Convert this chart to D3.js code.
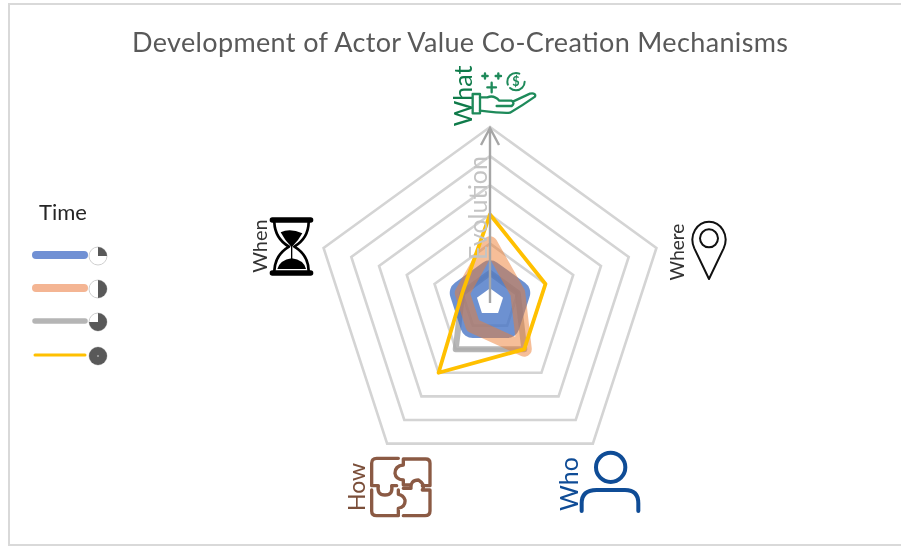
<!DOCTYPE html>
<html>
<head>
<meta charset="utf-8">
<script src="https://d3js.org/d3.v7.min.js"></script>
<style>
html, body { margin: 0; padding: 0; background: #fff; overflow: hidden; }
svg { display: block; filter: blur(0.6px); }
text { font-family: Lato, "Open Sans", sans-serif; }
</style>
</head>
<body>
<script>
var title = "Development of Actor Value Co-Creation Mechanisms";
var axes = ["What", "Where", "Who", "How", "When"];
var levels = [1, 2, 3, 4, 5, 6];

// value per axis, same order as axes
var time1 = [1, 1, 1, 1, 1];
var time2 = [2, 1, 2, 1, 1];
var time3 = [1, 1, 2, 2, 1];
var time4 = [3, 2, 2, 3, 1];

// how much of each legend clock is dark
var clockFill = [1, 2, 3, 4];

var width = 901, height = 546,
    cx = 490, cy = 302;

var svg = d3.select("body").append("svg").attr("width", width).attr("height", height);

// picture frame
svg.append("path")
    .attr("d", "M903,4H9V545H903")
    .attr("fill", "none")
    .attr("stroke", "#d9d9d9")
    .attr("stroke-width", 2);

svg.append("text")
    .attr("x", 460).attr("y", 52)
    .attr("text-anchor", "middle")
    .attr("fill", "#595959")
    .attr("font-size", 27)
    .attr("textLength", 656)
    .text(title);

var r = d3.scaleLinear().domain([0, 6]).range([0, 175]);
var angle = d3.scalePoint().domain(axes).range([0, 2 * Math.PI * 4 / 5]);

var radar = d3.lineRadial()
    .angle(function (d, i) { return angle(axes[i]); })
    .radius(function (d) { return r(d); })
    .curve(d3.curveLinearClosed);

var g = svg.append("g").attr("transform", "translate(" + cx + "," + cy + ")");

g.selectAll(".ring")
    .data(levels)
    .enter().append("path")
    .attr("class", "ring")
    .attr("fill", "none")
    .attr("stroke", "#d4d4d4")
    .attr("stroke-width", 2.6)
    .attr("d", function (d) { return radar(axes.map(function () { return d; })); });

// gray goes under the blue in the original
var series = [
    {values: time3, color: "#a5a5a5", w: 6, o: 0.8},
    {values: time1, color: "#4472c4", w: 25, o: 0.78},
    {values: time2, color: "#ed7d31", w: 15, o: 0.5},
    {values: time4, color: "#ffc000", w: 3.8, o: 1}
];

g.selectAll(".serie")
    .data(series)
    .enter().append("path")
    .attr("class", "serie")
    .attr("fill", "none")
    .attr("stroke-linejoin", "round")
    .attr("stroke", function (d) { return d.color; })
    .attr("stroke-width", function (d) { return d.w; })
    .attr("stroke-opacity", function (d) { return d.o; })
    .attr("d", function (d) { return radar(d.values); });

// evolution arrow
svg.append("text")
    .attr("transform", "translate(487,208) rotate(-90)")
    .attr("text-anchor", "middle")
    .attr("fill", "#c4c4c4")
    .attr("font-size", 25)
    .text("Evolution");

svg.append("path")
    .attr("d", "M490,303V128M481,145L490,128L499,145")
    .attr("fill", "none")
    .attr("stroke", "#a6a6a6")
    .attr("stroke-width", 2.4);

// axis labels, rotated like the source image
var labels = [
    {t: "What", x: 472, y: 96, size: 25, color: "#0f7b4a"},
    {t: "Where", x: 684, y: 252, size: 19, color: "#333"},
    {t: "Who", x: 578, y: 484, size: 25, color: "#0f4c96"},
    {t: "How", x: 365, y: 487, size: 23, color: "#7b4f3a"},
    {t: "When", x: 267, y: 246, size: 20, color: "#333"}
];

svg.selectAll(".axis-label")
    .data(labels)
    .enter().append("text")
    .attr("class", "axis-label")
    .attr("transform", function (d) { return "translate(" + d.x + "," + d.y + ") rotate(-90)"; })
    .attr("text-anchor", "middle")
    .attr("font-size", function (d) { return d.size; })
    .attr("fill", function (d) { return d.color; })
    .text(function (d) { return d.t; });

// icons, traced at 3x so they scale down by a third
function icon(x, y, color, sw) {
    return svg.append("g")
        .attr("transform", "translate(" + x + "," + y + ") scale(0.3333)")
        .attr("fill", "none")
        .attr("stroke", color)
        .attr("stroke-width", sw)
        .attr("stroke-linecap", "round")
        .attr("stroke-linejoin", "round");
}

var what = icon(430, 60, "#1e8a5a", 7);
what.append("rect").attr("x", 128).attr("y", 102).attr("width", 22).attr("height", 58);
what.append("path").attr("d", "M150,112H172Q192,104 208,122H245Q256,129 245,138H200M250,124L300,101Q319,98 315,110Q280,135 240,158Q225,161 150,152");
what.append("path").attr("d", "M157,48H173M165,40V56M197,48H213M205,40V56M172,82H198M185,68V97");
what.append("circle").attr("cx", 258).attr("cy", 65).attr("r", 26).attr("stroke-dasharray", "60 12 60 31").attr("stroke-width", 6);
what.append("text").attr("x", 258).attr("y", 78).attr("text-anchor", "middle")
    .attr("font-size", 38).attr("font-weight", 700).attr("stroke", "none").attr("fill", "#1e8a5a").text("$");

var when = icon(240, 205, "#000", 8);
when.append("path").attr("stroke-width", 16).attr("d", "M97,45H212M97,204H212");
when.append("path").attr("d", "M103,52Q105,100 147,125Q105,150 103,197M206,52Q205,100 163,125Q205,150 206,197");
when.append("path").attr("fill", "#000").attr("stroke", "none").attr("d", "M122,82Q150,68 187,85Q176,106 155,127Q134,106 122,82Z");
when.append("path").attr("stroke-width", 4).attr("d", "M155,120V170");
when.append("path").attr("fill", "#000").attr("stroke", "none").attr("d", "M112,192Q120,165 155,160Q192,165 198,192Z");

var where = icon(660, 210, "#111", 6);
where.append("path").attr("d", "M147,207L103,115C85,75 112,35 147,35C182,35 209,75 191,115Z");
where.append("circle").attr("cx", 147).attr("cy", 85).attr("r", 27);

var how = icon(335, 445, "#8b5a44", 10);
how.append("path").attr("d", "M190,40H125Q110,40 110,55V122H130Q125,150 150,150Q175,150 170,122H185");
how.append("path").attr("d", "M205,42H272Q285,42 285,55V122H262M205,42V60Q180,62 180,85Q182,103 205,105V120H225");
how.append("path").attr("d", "M110,135V198Q110,212 125,212H190V190Q212,185 210,165Q205,150 190,148V135");
how.append("path").attr("d", "M205,212H270Q285,212 285,198V135H262Q272,120 250,105Q226,105 228,130H205");

var who = icon(545, 445, "#0f4c96", 12);
who.append("circle").attr("cx", 197).attr("cy", 67).attr("r", 44);
who.append("path").attr("d", "M110,198V175Q110,135 155,135H240Q280,135 280,175V198");

// legend
var legend = svg.append("g");
legend.append("text").attr("x", 39).attr("y", 220).attr("font-size", 22).attr("fill", "#262626").text("Time");

var legendItems = [
    {color: "#7090d4", w: 8, fill: clockFill[0], y: 255, x0: 36, x1: 84},
    {color: "#f4b593", w: 8, fill: clockFill[1], y: 288, x0: 36, x1: 84},
    {color: "#b5b5b5", w: 5.5, fill: clockFill[2], y: 321, x0: 35, x1: 85},
    {color: "#ffc000", w: 3, fill: clockFill[3], y: 355, x0: 35, x1: 85}
];

legend.selectAll(".swatch")
    .data(legendItems)
    .enter().append("line")
    .attr("class", "swatch")
    .attr("x1", function (d) { return d.x0; })
    .attr("x2", function (d) { return d.x1; })
    .attr("y1", function (d) { return d.y; })
    .attr("y2", function (d) { return d.y; })
    .attr("stroke", function (d) { return d.color; })
    .attr("stroke-width", function (d) { return d.w; })
    .attr("stroke-linecap", "round");

var pie = d3.pie().sort(null).startAngle(0).endAngle(2 * Math.PI);
var arc = d3.arc().innerRadius(0).outerRadius(9);

var clocks = legend.selectAll(".clock")
    .data(legendItems)
    .enter().append("g")
    .attr("class", "clock")
    .attr("transform", function (d) { return "translate(98," + (d.y + 1) + ")"; });

clocks.append("circle").attr("r", 9).attr("fill", "#fff").attr("stroke", "#cfcfcf").attr("stroke-width", 1);

clocks.selectAll(".slice")
    .data(function (d) { return pie([d.fill, 4 - d.fill]).slice(0, 1); })
    .enter().append("path")
    .attr("class", "slice")
    .attr("fill", "#595959")
    .attr("d", arc);

legend.append("circle").attr("cx", 98).attr("cy", 356).attr("r", 0.8).attr("fill", "#ddd");
</script>
</body>
</html>
